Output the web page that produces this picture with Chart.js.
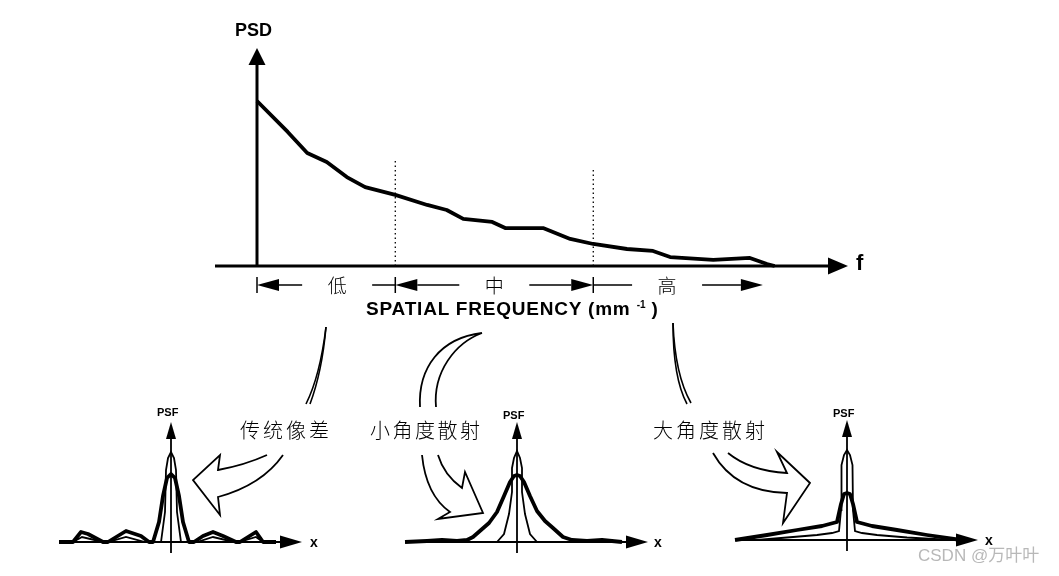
<!DOCTYPE html>
<html>
<head>
<meta charset="utf-8">
<script src="https://cdn.jsdelivr.net/npm/chart.js@4.4.0/dist/chart.umd.min.js"></script>
<style>
body{margin:0;background:#fff;width:1059px;height:576px;position:relative;overflow:hidden;font-family:"Liberation Sans",Arial,sans-serif}
canvas{position:absolute}
.t{position:absolute;white-space:nowrap;color:#000;line-height:1}
.b{font-weight:bold}
.zh{font-family:"Noto Sans CJK SC",sans-serif;font-weight:300;font-size:20px}
</style>
</head>
<body>
<canvas id="psd" width="1059" height="576" style="left:0;top:0"></canvas>
<canvas id="psf1"></canvas>
<canvas id="psf2"></canvas>
<canvas id="psf3"></canvas>

<div class="t b" style="left:235px;top:21px;font-size:18px">PSD</div>
<div class="t b" style="left:856px;top:252px;font-size:22px">f</div>
<div class="t b" style="left:366px;top:299px;font-size:19px;letter-spacing:0.8px">SPATIAL FREQUENCY (mm <span style="font-size:10px;vertical-align:7px;letter-spacing:0">-1</span> )</div>

<div class="t zh" style="left:240px;top:420px;letter-spacing:3px">传统像差</div>
<div class="t zh" style="left:370px;top:420px;letter-spacing:2.5px">小角度散射</div>
<div class="t zh" style="left:653px;top:420px;letter-spacing:3px">大角度散射</div>

<div class="t b" style="left:157px;top:407px;font-size:11px">PSF</div>
<div class="t b" style="left:503px;top:410px;font-size:11px">PSF</div>
<div class="t b" style="left:833px;top:408px;font-size:11px">PSF</div>
<div class="t b" style="left:310px;top:535px;font-size:14px">x</div>
<div class="t b" style="left:654px;top:535px;font-size:14px">x</div>
<div class="t b" style="left:985px;top:533px;font-size:14px">x</div>

<div class="t" style="left:918px;top:547px;font-size:17px;color:#b8b8b8;font-family:'Liberation Sans','Noto Sans CJK SC',sans-serif">CSDN @万叶叶</div>

<script>
// PSD 曲线 (单位任意, 从图上读出)
const freq = [0, 0.52, 0.85, 1.18, 1.52, 1.83, 2.34, 2.88, 3.21, 3.49, 3.98, 4.20, 4.84, 5.30, 5.69, 6.26, 6.70, 6.99, 7.72, 8.34, 8.63, 8.76];
const psd  = [7.57, 6.15, 5.18, 4.77, 4.08, 3.62, 3.26, 2.80, 2.57, 2.16, 2.02, 1.74, 1.74, 1.24, 1.01, 0.78, 0.69, 0.41, 0.28, 0.37, 0.09, 0];
const bandEdges = [0, 2.34, 5.69, 8.56];
const bandNames = ['低', '中', '高'];
const dividerTops = [4.95, 4.5];

// PSF 小图 (传统像差)
const aberThickX = [-11.2, -9.8, -9.0, -8.3, -6.8, -6.3, -4.5, -3.0, -2.2, -1.8, -1.2, -0.8, -0.4, 0, 0.4, 0.8, 1.2, 1.8, 2.3, 3.2, 4.2, 5.2, 6.5, 6.9, 8.5, 9.2, 10.5];
const aberThickY = [0, 0, 1.0, 0.8, 0, 0, 1.1, 0.6, 0, 0, 2.0, 4.6, 6.4, 6.8, 6.4, 4.6, 2.0, 0, 0, 0.6, 1.0, 0.6, 0, 0, 1.0, 0, 0];
const aberThinX = [-9.8, -8.9, -6.8, -6.3, -4.5, -2.6, -1.0, -0.6, -0.5, -0.3, 0, 0.3, 0.5, 0.6, 1.0, 2.6, 4.2, 6.3, 6.8, 8.5, 9.2];
const aberThinY = [0, 0.5, 0, 0, 0.5, 0, 0, 3.0, 7.2, 8.4, 9.0, 8.4, 7.2, 3.0, 0, 0, 0.5, 0, 0, 0.5, 0];

// 小角度散射
const smallThickX = [-11.2, -9, -7.5, -6, -5, -4.4, -3.6, -2.8, -2.0, -1.3, -0.7, -0.3, 0, 0.3, 0.7, 1.3, 2.0, 2.8, 3.6, 4.6, 5.5, 7, 8.5, 10.5];
const smallThickY = [0, 0.1, 0.2, 0.1, 0.2, 0.5, 1.2, 1.9, 3.0, 4.6, 6.0, 6.6, 6.7, 6.6, 6.0, 4.6, 3.1, 2.1, 1.4, 0.5, 0.2, 0.1, 0.2, 0];
const smallThinX = [-2.0, -1.3, -0.8, -0.5, -0.5, -0.3, 0, 0.3, 0.5, 0.5, 0.8, 1.3, 2.0];
const smallThinY = [0, 0.8, 2.8, 5.0, 7.4, 8.4, 9.1, 8.4, 7.4, 5.0, 2.8, 0.8, 0];

// 大角度散射
const largeThickX = [-11.2, -8, -5, -2.5, -1.0, -0.6, -0.3, 0, 0.3, 0.6, 1.0, 2.5, 5, 8, 11.4];
const largeThickY = [0, 0.5, 1.0, 1.4, 1.8, 3.6, 4.6, 4.7, 4.6, 3.6, 1.8, 1.4, 1.0, 0.5, 0];
const largeThinX = [-9, -6, -3, -1.5, -0.8, -0.6, -0.55, -0.3, 0, 0.3, 0.55, 0.6, 0.8, 1.5, 3, 6, 10.5];
const largeThinY = [0, 0.25, 0.5, 0.7, 0.9, 3.0, 7.5, 8.5, 9.0, 8.5, 7.5, 3.0, 0.9, 0.7, 0.5, 0.25, 0];

const psfMin = -11.2, psfMax = 13.1, psfTop = 12;

function pts(xs, ys) {
    return xs.map((v, i) => ({x: v, y: ys[i]}));
}

// 箭头
function head(ctx, x, y, dir, len, half) {
    ctx.beginPath();
    if (dir == 'left') { ctx.moveTo(x, y); ctx.lineTo(x + len, y - half); ctx.lineTo(x + len, y + half); }
    if (dir == 'right') { ctx.moveTo(x, y); ctx.lineTo(x - len, y - half); ctx.lineTo(x - len, y + half); }
    if (dir == 'up') { ctx.moveTo(x, y); ctx.lineTo(x - half, y + len); ctx.lineTo(x + half, y + len); }
    ctx.closePath();
    ctx.fill();
}

function line(ctx, x1, y1, x2, y2, w) {
    ctx.lineWidth = w;
    ctx.beginPath();
    ctx.moveTo(x1, y1);
    ctx.lineTo(x2, y2);
    ctx.stroke();
}

// 弯箭头和引线
function drawDecor(ctx) {
    ctx.save();
    ctx.strokeStyle = '#000';
    ctx.lineWidth = 1.6;
    const curves = [
        [326, 327, 322, 372, 310, 404],
        [326, 327, 320, 376, 306, 404],
        [673, 323, 675, 375, 691, 403],
        [673, 323, 673, 378, 687, 404]
    ];
    curves.forEach(c => {
        ctx.beginPath();
        ctx.moveTo(c[0], c[1]);
        ctx.quadraticCurveTo(c[2], c[3], c[4], c[5]);
        ctx.stroke();
    });

    ctx.lineWidth = 1.8;
    // 小角度 上半段
    ctx.beginPath();
    ctx.moveTo(482, 333);
    ctx.bezierCurveTo(440, 338, 418, 368, 420, 407);
    ctx.moveTo(482, 333);
    ctx.bezierCurveTo(455, 343, 433, 372, 436, 407);
    ctx.stroke();

    // 小角度 下半段
    ctx.beginPath();
    ctx.moveTo(422, 455);
    ctx.quadraticCurveTo(426, 495, 450, 512);
    ctx.lineTo(438, 519);
    ctx.lineTo(483, 513);
    ctx.lineTo(465, 472);
    ctx.lineTo(462, 488);
    ctx.quadraticCurveTo(444, 475, 438, 455);
    ctx.stroke();

    // 传统像差
    ctx.beginPath();
    ctx.moveTo(267, 455);
    ctx.quadraticCurveTo(245, 465, 218, 470);
    ctx.lineTo(220, 455);
    ctx.lineTo(193, 480);
    ctx.lineTo(220, 515);
    ctx.lineTo(218, 497);
    ctx.quadraticCurveTo(262, 485, 283, 455);
    ctx.stroke();

    // 大角度散射
    ctx.beginPath();
    ctx.moveTo(728, 453);
    ctx.quadraticCurveTo(750, 471, 787, 473);
    ctx.lineTo(777, 452);
    ctx.lineTo(810, 483);
    ctx.lineTo(783, 523);
    ctx.lineTo(787, 493);
    ctx.quadraticCurveTo(735, 492, 713, 453);
    ctx.stroke();
    ctx.restore();
}

const psdAxes = {
    id: 'psdAxes',
    beforeDatasetsDraw(chart) {
        const {ctx, chartArea: a, scales: {x}} = chart;
        ctx.save();
        ctx.strokeStyle = '#000';
        ctx.fillStyle = '#000';
        // 坐标轴
        line(ctx, a.left, a.bottom + 1, a.left, a.top + 14, 3);
        head(ctx, a.left, a.top, 'up', 17, 8.5);
        line(ctx, a.left - 42, a.bottom, a.right - 18, a.bottom, 3);
        head(ctx, a.right, a.bottom, 'right', 20, 8.5);

        // 频段箭头
        const yb = a.bottom + 19;
        const hl = 22, hh = 6;
        ctx.font = '300 19px "Noto Sans CJK SC"';
        ctx.textAlign = 'center';
        ctx.textBaseline = 'middle';
        for (let i = 0; i < bandNames.length; i++) {
            const p0 = x.getPixelForValue(bandEdges[i]);
            const p1 = x.getPixelForValue(bandEdges[i + 1]);
            const leftHead = i <= 1, rightHead = i >= 1;
            const s = p0 + (leftHead ? hl : 0), e = p1 - (rightHead ? hl : 0);
            const mid = (s + e) / 2;
            const gap = 35;
            if (leftHead) head(ctx, p0, yb, 'left', hl, hh);
            if (rightHead) head(ctx, p1, yb, 'right', hl, hh);
            line(ctx, s, yb, mid - gap, yb, 1.5);
            line(ctx, mid + gap, yb, e, yb, 1.5);
            ctx.fillText(bandNames[i], mid, yb + 1);
            // 分界刻度
            line(ctx, p0, yb - 8, p0, yb + 8, 1.5);
        }
        ctx.restore();
    },
    afterDraw(chart) {
        drawDecor(chart.ctx);
    }
};

new Chart(document.getElementById('psd'), {
    type: 'line',
    data: {
        datasets: [{
            data: pts(freq, psd),
            borderColor: '#000',
            borderWidth: 3.8,
            pointRadius: 0,
            tension: 0,
            clip: false,
            borderJoinStyle: 'round'
        }, {
            data: [{x: bandEdges[1], y: 0}, {x: bandEdges[1], y: dividerTops[0]}],
            borderColor: '#000',
            borderWidth: 1.3,
            borderDash: [1.5, 3],
            pointRadius: 0
        }, {
            data: [{x: bandEdges[2], y: 0}, {x: bandEdges[2], y: dividerTops[1]}],
            borderColor: '#000',
            borderWidth: 1.3,
            borderDash: [1.5, 3],
            pointRadius: 0
        }]
    },
    options: {
        responsive: false,
        animation: false,
        layout: {padding: {left: 257, right: 211, top: 48, bottom: 310}},
        scales: {
            x: {type: 'linear', min: 0, max: 10, display: false},
            y: {min: 0, max: 10, display: false}
        },
        plugins: {legend: {display: false}, tooltip: {enabled: false}}
    },
    plugins: [psdAxes]
});

const psfAxes = {
    id: 'psfAxes',
    beforeDatasetsDraw(chart) {
        const {ctx, chartArea: a, scales: {x, y}} = chart;
        const cx = x.getPixelForValue(0), base = y.getPixelForValue(0);
        ctx.save();
        ctx.strokeStyle = '#000';
        ctx.fillStyle = '#000';
        line(ctx, a.left, base, a.right - 18, base, 2.2);
        head(ctx, a.right, base, 'right', 22, 6.5);
        line(ctx, cx, base + 11, cx, a.top + 14, 1.8);
        head(ctx, cx, a.top, 'up', 17, 5);
        ctx.restore();
    }
};

function psfChart(id, cx, axisY, thickX, thickY, thinX, thinY) {
    const cv = document.getElementById(id);
    cv.width = 243 + 24;
    cv.height = 120 + 12 + 20;
    cv.style.left = (cx - 112 - 12) + 'px';
    cv.style.top = (axisY - 120 - 12) + 'px';
    new Chart(cv, {
        type: 'line',
        data: {
            datasets: [{
                data: pts(thinX, thinY),
                borderColor: '#000',
                borderWidth: 1.8,
                pointRadius: 0,
                clip: false
            }, {
                data: pts(thickX, thickY),
                borderColor: '#000',
                borderWidth: 3.8,
                pointRadius: 0,
                clip: false,
                borderJoinStyle: 'round'
            }]
        },
        options: {
            responsive: false,
            animation: false,
            layout: {padding: {left: 12, right: 12, top: 12, bottom: 20}},
            scales: {
                x: {type: 'linear', min: psfMin, max: psfMax, display: false},
                y: {min: 0, max: psfTop, display: false}
            },
            plugins: {legend: {display: false}, tooltip: {enabled: false}}
        },
        plugins: [psfAxes]
    });
}

psfChart('psf1', 171, 542, aberThickX, aberThickY, aberThinX, aberThinY);
psfChart('psf2', 517, 542, smallThickX, smallThickY, smallThinX, smallThinY);
psfChart('psf3', 847, 540, largeThickX, largeThickY, largeThinX, largeThinY);
</script>
</body>
</html>
